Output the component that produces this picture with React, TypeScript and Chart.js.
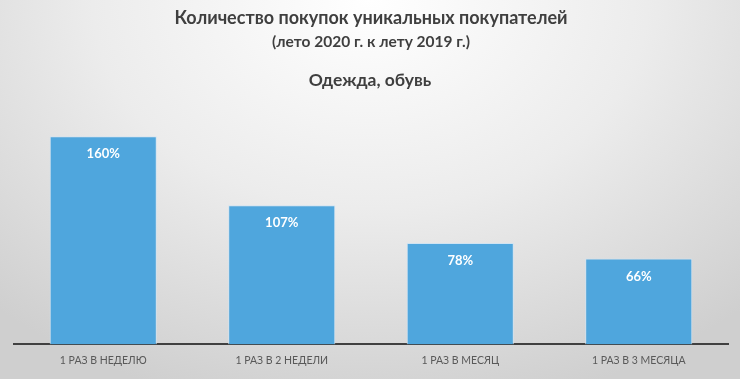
import React, { useEffect, useRef } from "react";
import { Chart, registerables } from "chart.js";

Chart.register(...registerables);

const titleLine1 = "Количество покупок уникальных покупателей";
const titleLine2 = "(лето 2020 г. к лету 2019 г.)";
const titleLine3 = "Одежда, обувь";
const categories = ["1 РАЗ В НЕДЕЛЮ", "1 РАЗ В 2 НЕДЕЛИ", "1 РАЗ В МЕСЯЦ", "1 РАЗ В 3 МЕСЯЦА"];
const values = [160, 107, 78, 66];

const FONT = "Lato, 'Open Sans', 'DejaVu Sans', sans-serif";

const extraTitle = {
  id: "extraTitle",
  afterDraw(chart: any) {
    const ctx = chart.ctx;
    ctx.save();
    ctx.font = `bold 17.5px ${FONT}`;
    ctx.fillStyle = "#3f3f3f";
    ctx.textAlign = "center";
    ctx.textBaseline = "middle";
    ctx.fillText(titleLine3, chart.width / 2, 80);
    ctx.restore();
  },
};

const barLabels = {
  id: "barLabels",
  afterDatasetsDraw(chart: any) {
    const ctx = chart.ctx;
    const meta = chart.getDatasetMeta(0);
    ctx.save();
    ctx.font = `bold 13px ${FONT}`;
    ctx.fillStyle = "#ffffff";
    ctx.textAlign = "center";
    ctx.textBaseline = "middle";
    meta.data.forEach((bar: any, i: number) => {
      ctx.fillText(values[i] + "%", bar.x, bar.y + 18);
    });
    ctx.restore();
  },
};

export default function App() {
  const ref = useRef<HTMLCanvasElement>(null);
  useEffect(() => {
    if (!ref.current) return;
    const chart = new Chart(ref.current, {
      type: "bar",
      data: {
        labels: categories,
        datasets: [
          {
            data: values,
            backgroundColor: "#4fa6dd",
            borderColor: "#cfe3f2",
            borderWidth: 1,
            categoryPercentage: 1,
            barPercentage: 0.6,
          },
        ],
      },
      options: {
        animation: false,
        responsive: false,
        maintainAspectRatio: false,
        layout: { padding: { left: 14, right: 12, top: 0, bottom: 10 } },
        plugins: {
          legend: { display: false },
          tooltip: { enabled: false },
          title: {
            display: true,
            text: titleLine1,
            color: "#3f3f3f",
            font: { family: FONT, size: 18, weight: "bold" },
            padding: { top: 7, bottom: 4 },
          },
          subtitle: {
            display: true,
            text: titleLine2,
            color: "#3f3f3f",
            font: { family: FONT, size: 15.5, weight: "bold" },
            padding: { top: 0, bottom: 85 },
          },
        },
        scales: {
          x: {
            grid: { display: false },
            border: { display: true, color: "#404040", width: 2 },
            ticks: {
              color: "#595959",
              font: { family: FONT, size: 10.5 },
              padding: 2,
            },
          },
          y: {
            display: false,
            min: 0,
            max: 160,
          },
        },
      },
      plugins: [extraTitle, barLabels],
    });
    return () => chart.destroy();
  }, []);
  return (
    <div
      style={{
        position: "fixed",
        left: 0,
        top: 0,
        width: 740,
        height: 379,
        background: "radial-gradient(ellipse 75% 110% at 50% 0%, #ffffff 0%, #ececec 50%, #cfcfcf 100%)",
      }}
    >
      <canvas ref={ref} width={740} height={379} style={{ display: "block" }} />
    </div>
  );
}
